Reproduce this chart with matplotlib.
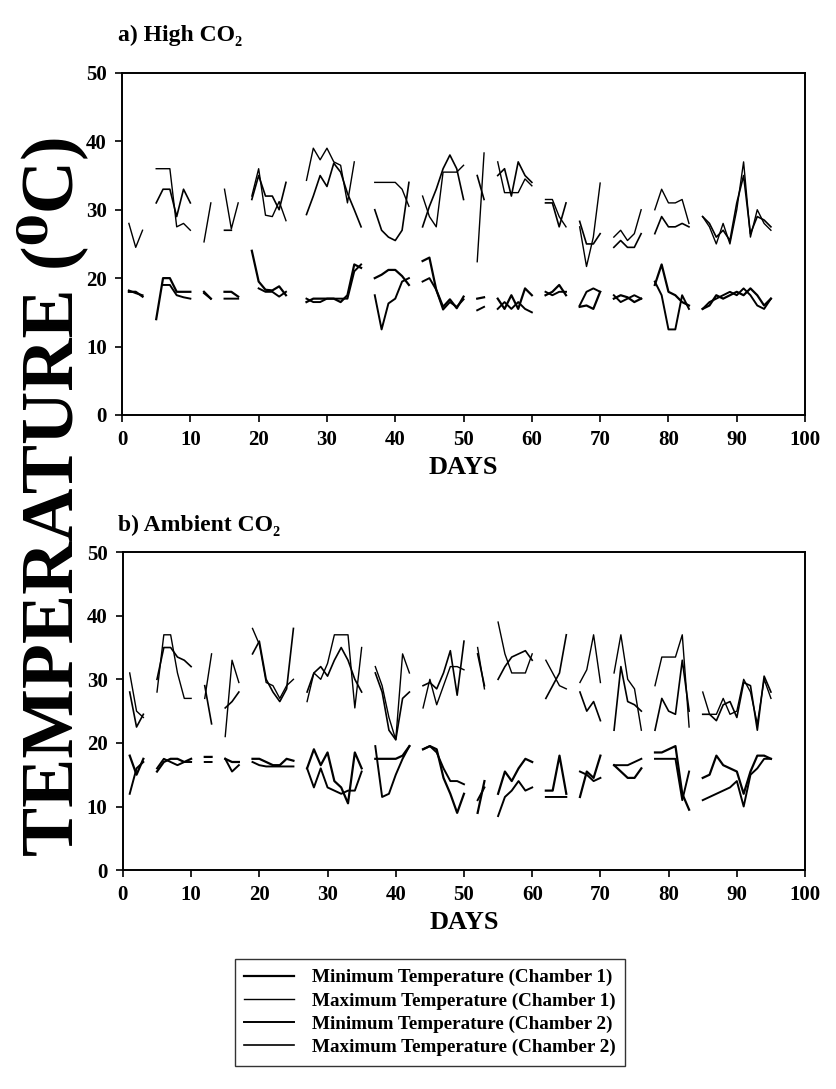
import numpy as np
import matplotlib
matplotlib.use("Agg")
import matplotlib.pyplot as plt

n = np.nan

# days of the experiment
days = np.arange(1, 96)

# a) High CO2 (nan = no reading)
high_min1 = [18, 18, 17.3, n, 14, 20, 20, 18, 18, 18,
             n, 18, 17, n, 18, 18, 17.3, n, 24, 19.5,
             18.3, 18.2, 18.8, 17.5, n, n, 16.5, 17, 17, 17,
             17, 16.5, 17.5, 22, 21.5, n, 20, 20.5, 21.2, 21.2,
             20.3, 19, n, 22.5, 23, 18.3, 15.8, 16.9, 15.6, 17.3,
             n, 17, 17.2, n, 17, 15.5, 17.5, 15.5, 18.5, 17.5,
             n, 17.5, 18, 19, 17.5, n, 15.8, 16, 15.5, 18,
             n, 17, 17.5, 17.2, 16.5, 17, n, 19, 22, 18,
             17.5, 16.5, 16, n, 15.5, 16, 17.5, 17, 17.5, 18,
             17.5, 18.5, 17.5, 16, 17]
high_max1 = [28, 24.5, 27, n, 36, 36, 36, 27.5, 28, 27,
             n, 25.3, 31, n, 33, 27.2, 31, n, 32, 36,
             29.2, 29, 31.2, 28.4, n, n, 34.3, 39, 37.3, 39,
             37, 36.5, 31, 37, n, n, 34, 34, 34, 34,
             33, 30.5, n, 32, 29, 27.5, 35.5, 35.5, 35.5, 36.5,
             n, 22.4, 38.3, n, 37, 32.5, 32.5, 32.5, 34.5, 33.5,
             n, 31.5, 31.5, 29, 27.5, n, 27.5, 21.7, 26, 33.9,
             n, 26, 27, 25.5, 26.5, 30, n, 30, 33, 31,
             31, 31.5, 28, n, 29, 27.5, 25, 28, 25, 30,
             37, 26, 30, 28, 27]
high_min2 = [18.2, 17.8, 17.5, n, n, 19, 19, 17.5, 17.2, 17,
             n, 17.8, 17, n, 17, 17, 17, n, n, 18.5,
             18, 18, 17.3, 18, n, n, 17, 16.5, 16.5, 17,
             17, 17, 17, 21, 22, n, 17.5, 12.5, 16.3, 17,
             19.5, 20, n, 19.5, 20, 18.3, 15.4, 16.5, 15.8, 16.9,
             n, 15.3, 15.8, n, 15.5, 16.5, 15.5, 16.5, 15.5, 15,
             n, 18, 17.5, 18, 18, n, 16, 18, 18.5, 18,
             n, 17.5, 16.5, 17, 17.5, 17, n, 19.5, 17.5, 12.5,
             12.5, 17.5, 15.5, n, 15.5, 16.5, 17, 17.5, 18, 17.5,
             18.5, 17.5, 16, 15.5, 17]
high_max2 = [n, n, n, n, 31, 33, 33, 29, 33, 31,
             n, n, n, n, 27, 27, n, n, 31.5, 35,
             32, 32, 30, 34, n, n, 29.3, 32, 35, 33.4,
             36.8, 35.5, 32.4, 30, 27.5, n, 30, 27, 26, 25.5,
             27, 34, n, 27.5, 30.5, 33, 36, 38, 36, 31.5,
             n, 35, 31.5, n, 35, 36, 32, 37, 35, 34,
             n, 31, 31, 27.5, 31, n, 28.3, 25, 25, 26.5,
             n, 24.5, 25.5, 24.5, 24.5, 26.5, n, 26.5, 29, 27.5,
             27.5, 28, 27.5, n, 29, 28, 26, 27, 25.5, 31,
             35, 26.5, 29, 28.5, 27.5]

# b) Ambient CO2
amb_min1 = [18, 15, 17.5, n, 15.5, 17, 17.5, 17.5, 17, 17.5,
            n, 17.8, 17.8, n, 17.5, 17, 17, n, 17.5, 17.5,
            17, 16.5, 16.5, 17.5, 17.2, n, 16, 19, 16.5, 18.5,
            14, 13, 10.5, 18.5, 16, n, 17.5, 17.5, 17.5, 17.5,
            18, 19.5, n, 19, 19.5, 19, 14.5, 12, 9, 12,
            n, 9, 14, n, 12, 15.5, 14, 16, 17.5, 17,
            n, 12.5, 12.5, 18, 12, n, 11.5, 15.5, 14.5, 18,
            n, 16.5, 15.5, 14.5, 14.5, 16, n, 18.5, 18.5, 19,
            19.5, 12, 9.5, n, 14.5, 15, 18, 16.5, 16, 15.5,
            12, 15.5, 18, 18, 17.5]
amb_max1 = [31, 25, 24, n, 28, 37, 37, 31, 27, 27,
            n, 27, 34, n, 21, 33, 29.5, n, 38, 35.5,
            29.5, 29, 27, 29, 30, n, 26.5, 31, 30, 32.5,
            37, 37, 37, 25.5, 35, n, 32, 29, 24, 20.5,
            34, 31, n, 25.5, 30, 26, 29, 32, 32, 31.5,
            n, 35, 28.5, n, 39, 34, 31, 31, 31, 34,
            n, 33, 31, 29, 28.5, n, 29.5, 31.5, 37, 29.5,
            n, 31, 37, 30, 28.5, 22, n, 29, 33.5, 33.5,
            33.5, 37, 22.5, n, 28, 24.5, 24.5, 27, 24.5, 25,
            30, 28, 23, 30, 27]
amb_min2 = [12, 16, 17, n, 16, 17.5, 17, 16.5, 17, 17,
            n, 17, 17, n, 17.5, 15.5, 16.5, n, 17, 16.5,
            16.3, 16.3, 16.3, 16.3, 16.3, n, 16, 13, 16, 13,
            12.5, 12, 12.5, 12.5, 15.5, n, 19.5, 11.5, 12, 15,
            17.5, 19.5, n, 19, 19.5, 18.5, 16, 14, 14, 13.5,
            n, 11, 13, n, 8.5, 11.5, 12.5, 14, 12.5, 13,
            n, 11.5, 11.5, 11.5, 11.5, n, 15.5, 15, 14, 14.5,
            n, 16.5, 16.5, 16.5, 17, 17.5, n, 17.5, 17.5, 17.5,
            17.5, 11, 15.5, n, 11, 11.5, 12, 12.5, 13, 14,
            10, 15, 16, 17.5, 17.5]
amb_max2 = [28, 22.5, 24.5, n, 30, 35, 35, 33.5, 33, 32,
            n, 29, 23, n, 25.5, 26.5, 28, n, 34, 36,
            30, 28, 26.5, 28.5, 38, n, 28, 31, 32, 30.5,
            33, 35, 33, 30, 28, n, 31, 28, 22, 20.5,
            27, 28, n, 29, 29.5, 28.5, 31, 34.5, 27.5, 36,
            n, 34, 29, n, 30, 32, 33.5, 34, 34.5, 33,
            n, 27, 29, 31, 37, n, 28, 25, 26.5, 23.5,
            n, 22, 32, 26.5, 26, 25, n, 22, 27, 25,
            24.5, 33, 25, n, 24.5, 24.5, 23.5, 26, 26.5, 24,
            29.5, 29, 22, 30.5, 28]

labels = ["Minimum Temperature (Chamber 1)", "Maximum Temperature (Chamber 1)",
          "Minimum Temperature (Chamber 2)", "Maximum Temperature (Chamber 2)"]
widths = [1.6, 1.0, 1.4, 1.2]

plt.rcParams['font.family'] = ['Liberation Serif', 'DejaVu Serif']
plt.rcParams['font.weight'] = 'bold'

fig = plt.figure(figsize=(8.36, 10.89), dpi=100)
ax1 = fig.add_axes([0.146, 0.619, 0.817, 0.314])
ax2 = fig.add_axes([0.147, 0.201, 0.816, 0.292])


def draw_panel(ax, series):
    ''' plot the four temperature series on one panel and style the axes '''
    lines = []
    for vals, lab, lw in zip(series, labels, widths):
        ln, = ax.plot(days, vals, color='black', lw=lw, label=lab)
        lines.append(ln)
    ax.set_xlim(0, 100)
    ax.set_ylim(0, 50)
    ax.set_xticks(range(0, 101, 10))
    ax.set_yticks(range(0, 51, 10))
    ax.tick_params(direction='out', length=5, width=1.2, labelsize=15, pad=6)
    for lab in ax.get_xticklabels() + ax.get_yticklabels():
        lab.set_fontweight('bold')
    for sp in ax.spines.values():
        sp.set_linewidth(1.4)
    ax.set_xlabel("DAYS", fontsize=19, fontweight='bold', labelpad=4)
    return lines


handles = draw_panel(ax1, [high_min1, high_max1, high_min2, high_max2])
draw_panel(ax2, [amb_min1, amb_max1, amb_min2, amb_max2])

fig.text(0.141, 1 - 35 / 1089, "a) High CO\u2082", fontsize=17, fontweight='bold',
         va='center', ha='left')
fig.text(0.141, 1 - 525 / 1089, "b) Ambient CO\u2082", fontsize=17, fontweight='bold',
         va='center', ha='left')

fig.text(0.062, 0.545, "TEMPERATURE (\u2070C)", fontsize=53, fontweight='bold',
         rotation=90, va='center', ha='center')

fig.legend(handles=handles, loc='upper left', bbox_to_anchor=(0.281, 0.119),
           borderaxespad=0, frameon=True, fancybox=False, edgecolor='black',
           handlelength=2.6, labelspacing=0.3, borderpad=0.5, handletextpad=0.9,
           prop={'weight': 'bold', 'size': 13.8})

fig.savefig("out.png", dpi=100)
